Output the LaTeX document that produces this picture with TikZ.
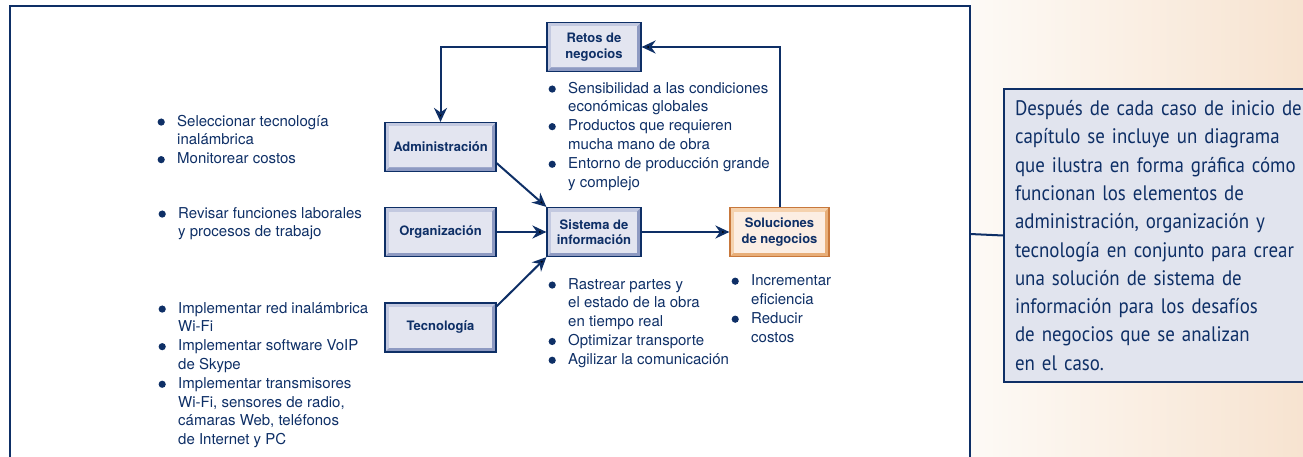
\documentclass[tikz,border=0pt]{standalone}
\usepackage{fontspec}
\setmainfont{TeX Gyre Heros}
\newfontfamily\callfont[FakeStretch=0.9]{PT Sans}
\usepackage{tikz}
\usetikzlibrary{arrows.meta,calc,positioning}
\usepackage{xcolor}
\definecolor{navy}{HTML}{0E2F66}
\definecolor{bevlt}{HTML}{C3C9E0}
\definecolor{bevdk}{HTML}{8E9AC2}
\definecolor{face}{HTML}{E3E5F0}
\definecolor{obord}{HTML}{C8783C}
\definecolor{olt}{HTML}{F5D2AE}
\definecolor{odk}{HTML}{E8AE78}
\definecolor{oface}{HTML}{FCEEE3}
\definecolor{notefill}{HTML}{E1E4EE}
\definecolor{bgl}{HTML}{FDFAF6}
\definecolor{bgr}{HTML}{F7E3D0}

\newcommand{\bul}{\tikz[baseline=0pt]\fill[navy] (0pt,4pt) circle (3.6pt);}
\newcommand{\itm}{\llap{\bul\hspace{12.4pt}}\strut}

\tikzset{
  bevelbox/.style n args={4}{draw=#1, line width=1.2pt, fill=#2,
    path picture={
      \fill[#3] (path picture bounding box.south west) -- (path picture bounding box.south east)
        -- (path picture bounding box.north east) -- ([shift={(-4pt,-4pt)}]path picture bounding box.north east)
        -- ([shift={(-4pt,4pt)}]path picture bounding box.south east) -- ([shift={(4pt,4pt)}]path picture bounding box.south west) -- cycle;
      \fill[#4] ([shift={(4pt,4pt)}]path picture bounding box.south west) rectangle ([shift={(-4pt,-4pt)}]path picture bounding box.north east);
    }},
  panel/.style={bevelbox={navy}{bevlt}{bevdk}{face}, minimum height=49pt, align=center, text=navy,
    font=\fontsize{13}{15.5}\selectfont\bfseries},
  panelo/.style={panel, bevelbox={obord}{olt}{odk}{oface}},
  lista/.style={anchor=north west, inner sep=0pt, align=left, text=navy, font=\fontsize{15}{18.8}\selectfont},
  arr/.style={draw=navy, line width=2pt, -{Stealth[length=14pt,width=13pt,inset=4.5pt]}},
  note/.style={draw=navy, line width=2pt, fill=notefill, anchor=north west, minimum width=330pt,
    minimum height=293pt, text width=308pt, inner xsep=11pt, align=left, text=navy,
    font=\callfont\fontsize{21}{28.3}\selectfont}
}

\begin{document}
\begin{tikzpicture}[x=1pt,y=-1pt]
  \useasboundingbox (0,0) rectangle (1303,457);
  \fill[left color=bgl, right color=bgr] (971,-1) rectangle (1304,458);
  \draw[navy, line width=2.3pt] (10,470) -- (10,6) -- (970,6) -- (970,470);
  \coordinate (fr) at (970,234);

  \node[panel, minimum width=94pt] (retos) at (594,47) {Retos de\\negocios};
  \node[panel, minimum width=111pt] (admin) at (440.5,147) {Administración};
  \node[panel, minimum width=111pt] (org) at (440.5,232) {Organización};
  \node[panel, minimum width=111pt] (tec) at (440.5,327.5) {Tecnología};
  \node[panel, minimum width=94pt] (sis) at (594,232) {Sistema de\\información};
  \node[panelo, minimum width=99pt] (sol) at (779.5,232) {Soluciones\\de negocios};

  % listas de cada bloque
  \node[lista] (lretos) at (568,79.7) {\itm Sensibilidad a las condiciones\\económicas globales\\\itm Productos que requieren\\mucha mano de obra\\\itm Entorno de producción grande\\y complejo};
  \node[lista] (ladmin) at (177,112.7) {\itm Seleccionar tecnología\\inalámbrica\\\itm Monitorear costos};
  \node[lista] (lorg) at (178,204.7) {\itm Revisar funciones laborales\\y procesos de trabajo};
  \node[lista] (ltec) at (178,299.7) {\itm Implementar red inalámbrica\\Wi-Fi\\\itm Implementar software VoIP\\de Skype\\\itm Implementar transmisores\\Wi-Fi, sensores de radio,\\cámaras Web, teléfonos\\de Internet y PC};
  \node[lista] (lsis) at (568,275.7) {\itm Rastrear partes y\\el estado de la obra\\en tiempo real\\\itm Optimizar transporte\\\itm Agilizar la comunicación};
  \node[lista, font=\fontsize{15}{19}\selectfont] (lsol) at (751,271.7) {\itm Incrementar\\eficiencia\\\itm Reducir\\costos};

  \draw[arr] (retos.west) -| (admin.north);
  \draw[arr] (sol.north) |- (retos.east);
  \draw[arr] ([yshift=9pt]admin.south east) -- (sis.north west);
  \draw[arr] (org.east) -- (sis.west);
  \draw[arr] ([yshift=-4pt]tec.north east) -- (sis.south west);
  \draw[arr] (sis.east) -- (sol.west);

  \node[note] (nota) at (1003,88) {Después de cada caso de inicio de\\capítulo se incluye un diagrama\\que ilustra en forma gráfica cómo\\funcionan los elementos de\\administración, organización y\\tecnología en conjunto para crear\\una solución de sistema de\\información para los desafíos\\de negocios que se analizan\\en el caso.};
  \draw[navy, line width=2pt] (fr) -- (nota.west);
\end{tikzpicture}
\end{document}
